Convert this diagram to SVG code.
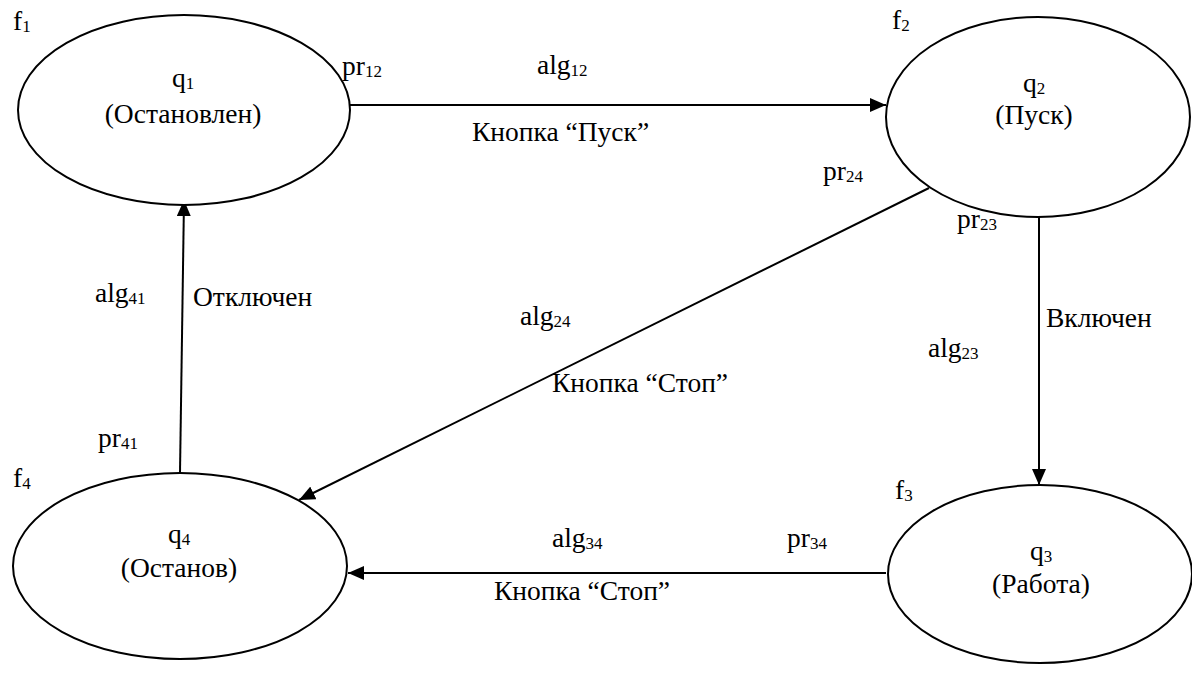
<svg xmlns="http://www.w3.org/2000/svg" width="1192" height="673" viewBox="0 0 1192 673">
  <style>
    text { font-family: "Liberation Serif", "Times New Roman", serif; font-size: 27.5px; fill: #000; }
    .c { text-anchor: middle; }
    .sub { font-size: 17px; }
    ellipse { fill: #fff; stroke: #000; stroke-width: 2; }
    .edge { stroke: #000; stroke-width: 2; fill: none; marker-end: url(#arrow); }
  </style>
  <defs>
    <marker id="arrow" markerUnits="userSpaceOnUse" markerWidth="16" markerHeight="14" refX="16" refY="7" orient="auto">
      <path d="M0,0 L16,7 L0,14 Z" fill="#000"/>
    </marker>
  </defs>
  <rect width="1192" height="673" fill="#fff"/>

  <!-- transitions -->
  <g id="connectors">
    <line class="edge" x1="349" y1="105" x2="886" y2="105"/>
    <line class="edge" x1="1039" y1="217" x2="1039" y2="485"/>
    <line class="edge" x1="886" y1="573" x2="348" y2="573"/>
    <line class="edge" x1="180" y1="473" x2="184" y2="200"/>
    <line class="edge" x1="929" y1="188" x2="299" y2="500"/>
  </g>

  <!-- states -->
  <g id="q1">
    <ellipse cx="184" cy="110" rx="166" ry="95"/>
    <text x="13" y="30">f<tspan class="sub" dy="2">1</tspan></text>
    <text class="c" x="183" y="87">q<tspan class="sub" dy="2">1</tspan></text>
    <text class="c" x="183" y="123">(Остановлен)</text>
  </g>
  <g id="q2">
    <ellipse cx="1038" cy="117" rx="152" ry="100"/>
    <text x="892" y="29">f<tspan class="sub" dy="2">2</tspan></text>
    <text class="c" x="1034" y="92">q<tspan class="sub" dy="2">2</tspan></text>
    <text class="c" x="1034" y="124">(Пуск)</text>
  </g>
  <g id="q3">
    <ellipse cx="1040" cy="574" rx="152" ry="89"/>
    <text x="895" y="499">f<tspan class="sub" dy="2">3</tspan></text>
    <text class="c" x="1041" y="560">q<tspan class="sub" dy="2">3</tspan></text>
    <text class="c" x="1041" y="593">(Работа)</text>
  </g>
  <g id="q4">
    <ellipse cx="180" cy="566" rx="167" ry="93"/>
    <text x="13" y="487">f<tspan class="sub" dy="2">4</tspan></text>
    <text class="c" x="179" y="543">q<tspan class="sub" dy="2">4</tspan></text>
    <text class="c" x="179" y="577">(Останов)</text>
  </g>

  <!-- transition labels -->
  <g id="labels">
    <text x="342" y="75">pr<tspan class="sub" dy="2">12</tspan></text>
    <text x="537" y="74">alg<tspan class="sub" dy="2">12</tspan></text>
    <text x="472" y="141">Кнопка “Пуск”</text>

    <text x="823" y="180">pr<tspan class="sub" dy="2">24</tspan></text>
    <text x="520" y="325">alg<tspan class="sub" dy="2">24</tspan></text>
    <text x="552" y="392">Кнопка “Стоп”</text>

    <text x="957" y="228">pr<tspan class="sub" dy="2">23</tspan></text>
    <text x="1046" y="327">Включен</text>
    <text x="928" y="357">alg<tspan class="sub" dy="2">23</tspan></text>

    <text x="552" y="547">alg<tspan class="sub" dy="2">34</tspan></text>
    <text x="787" y="547">pr<tspan class="sub" dy="2">34</tspan></text>
    <text x="494" y="600">Кнопка “Стоп”</text>

    <text x="95" y="302">alg<tspan class="sub" dy="2">41</tspan></text>
    <text x="193" y="306">Отключен</text>
    <text x="98" y="447">pr<tspan class="sub" dy="2">41</tspan></text>
  </g>
</svg>
